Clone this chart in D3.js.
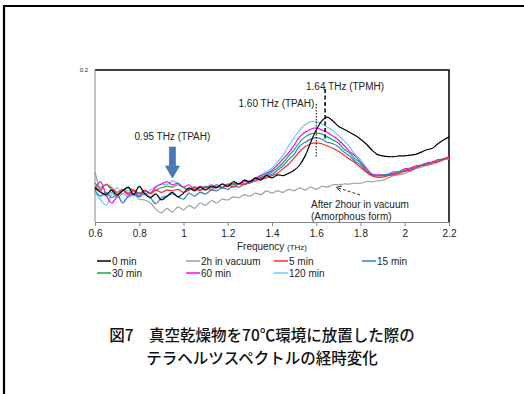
<!DOCTYPE html>
<html lang="ja">
<head>
<meta charset="UTF-8">
<title>THz spectra</title>
<style>
  body { margin: 0; background: #fff; font-family: 'Liberation Sans', Arial, sans-serif; }
  .axis path, .axis line { stroke: #888; }
  .axis text { fill: #222; font-size: 10px; font-family: 'Liberation Sans', Arial, sans-serif; }
  .cap { font-family: 'Noto Sans CJK JP', sans-serif; font-size: 15.5px; font-weight: 500; fill: #111; }
</style>
</head>
<body>
<div id="chart"></div>
<script src="https://cdnjs.cloudflare.com/ajax/libs/d3/7.8.5/d3.min.js"></script>
<script>
// frequency grid (THz), 0.6 .. 2.2 step 0.025
const freqs = d3.range(65).map(i => +(0.6 + i * 0.025).toFixed(3));
const xTicks = [0.6, 0.8, 1.0, 1.2, 1.4, 1.6, 1.8, 2.0, 2.2];
const yTicks = [0.2];

const min0 = [0.045,0.039,0.036,0.042,0.036,0.041,0.046,0.036,0.047,0.037,
  0.032,0.037,0.029,0.034,0.039,0.033,0.038,0.045,0.041,0.046,
  0.042,0.047,0.045,0.050,0.047,0.053,0.050,0.055,0.053,0.058,
  0.055,0.061,0.058,0.062,0.061,0.064,0.068,0.075,0.087,0.105,
  0.121,0.133,0.138,0.133,0.126,0.122,0.118,0.114,0.109,0.103,
  0.095,0.089,0.087,0.086,0.086,0.087,0.087,0.088,0.089,0.092,
  0.095,0.097,0.103,0.108,0.112];
const vacuum2h = [0.066,0.042,0.034,0.039,0.032,0.037,0.033,0.036,0.030,0.029,
  0.025,0.017,0.012,0.018,0.013,0.020,0.016,0.022,0.018,0.025,
  0.022,0.028,0.025,0.030,0.029,0.033,0.032,0.036,0.034,0.038,
  0.036,0.041,0.038,0.041,0.039,0.043,0.041,0.045,0.042,0.046,
  0.043,0.047,0.046,0.049,0.049,0.050,0.050,0.051,0.051,0.053,
  0.053,0.054,0.055,0.058,0.061,0.062,0.064,0.067,0.070,0.072,
  0.075,0.076,0.079,0.082,0.083];
const min5 = [0.047,0.042,0.050,0.045,0.039,0.043,0.038,0.042,0.037,0.041,
  0.038,0.042,0.039,0.042,0.041,0.043,0.039,0.042,0.045,0.041,
  0.046,0.042,0.047,0.045,0.049,0.046,0.050,0.049,0.053,0.054,
  0.057,0.058,0.061,0.064,0.070,0.076,0.084,0.093,0.099,0.103,
  0.104,0.103,0.100,0.097,0.093,0.088,0.083,0.078,0.072,0.066,
  0.061,0.059,0.059,0.061,0.062,0.064,0.067,0.068,0.071,0.074,
  0.075,0.078,0.079,0.082,0.084];
const min15 = [0.042,0.034,0.039,0.032,0.036,0.025,0.034,0.037,0.033,0.038,
  0.032,0.024,0.032,0.034,0.037,0.033,0.030,0.038,0.034,0.039,
  0.037,0.042,0.041,0.045,0.043,0.047,0.046,0.050,0.051,0.055,
  0.058,0.061,0.063,0.068,0.074,0.082,0.089,0.100,0.105,0.109,
  0.111,0.109,0.105,0.103,0.099,0.092,0.087,0.080,0.075,0.067,
  0.062,0.061,0.061,0.062,0.063,0.066,0.067,0.070,0.072,0.074,
  0.076,0.078,0.080,0.083,0.084];
const min30 = [0.051,0.045,0.049,0.042,0.034,0.041,0.045,0.042,0.038,0.041,
  0.037,0.042,0.045,0.047,0.046,0.049,0.045,0.042,0.046,0.042,
  0.047,0.045,0.049,0.046,0.050,0.049,0.051,0.050,0.053,0.055,
  0.059,0.062,0.066,0.071,0.078,0.087,0.095,0.105,0.112,0.116,
  0.117,0.116,0.112,0.108,0.104,0.096,0.091,0.083,0.078,0.068,
  0.062,0.061,0.062,0.062,0.064,0.066,0.068,0.070,0.072,0.075,
  0.076,0.079,0.080,0.083,0.084];
const min60 = [0.042,0.053,0.036,0.025,0.034,0.042,0.036,0.041,0.034,0.042,
  0.038,0.046,0.050,0.053,0.049,0.051,0.046,0.049,0.043,0.047,
  0.045,0.049,0.046,0.050,0.047,0.051,0.050,0.053,0.054,0.057,
  0.061,0.064,0.068,0.075,0.083,0.091,0.101,0.112,0.118,0.122,
  0.124,0.121,0.118,0.113,0.108,0.101,0.093,0.087,0.079,0.071,
  0.063,0.062,0.062,0.063,0.066,0.066,0.070,0.071,0.074,0.075,
  0.078,0.079,0.082,0.083,0.086];
const min120 = [0.039,0.029,0.022,0.036,0.045,0.037,0.042,0.034,0.039,0.036,
  0.042,0.047,0.050,0.049,0.054,0.051,0.046,0.043,0.047,0.043,
  0.047,0.045,0.049,0.046,0.050,0.047,0.051,0.050,0.054,0.058,
  0.062,0.066,0.071,0.079,0.088,0.100,0.111,0.121,0.128,0.132,
  0.132,0.129,0.125,0.120,0.114,0.107,0.099,0.089,0.082,0.072,
  0.064,0.061,0.061,0.062,0.063,0.066,0.067,0.070,0.071,0.074,
  0.075,0.078,0.079,0.082,0.083];

const seriesNames = ['0 min', '2h in vacuum', '5 min', '15 min', '30 min', '60 min', '120 min'];
const seriesValues = [min0, vacuum2h, min5, min15, min30, min60, min120];
const colors = ['#000000', '#a0a0a0', '#ff2a2a', '#2f7fd0', '#10b050', '#ff00ff', '#66ccff'];
// draw order (back to front)
const drawOrder = [1, 6, 5, 4, 3, 2, 0];

const W = 524, H = 394;
const svg = d3.select('#chart').append('svg').attr('width', W).attr('height', H);

// outer frame (left + top)
svg.append('path').attr('d', 'M4,400 L4,6 L530,6')
  .attr('fill', 'none').attr('stroke', '#000').attr('stroke-width', 2.2);

const plot = { left: 95, right: 449, top: 70, bottom: 222 };
const x = d3.scaleLinear().domain([0.6, 2.2]).range([plot.left, plot.right]);
const y = d3.scaleLinear().domain([0, 0.2]).range([plot.bottom, plot.top]);

// plot border top/right
svg.append('path')
  .attr('d', `M${plot.left},${plot.top} L${plot.right},${plot.top} L${plot.right},${plot.bottom}`)
  .attr('fill', 'none').attr('stroke', '#000').attr('stroke-width', 1.5);

// y axis
const yAxis = svg.append('g').attr('class', 'axis')
  .attr('transform', `translate(${plot.left},0)`)
  .call(d3.axisLeft(y).tickValues(yTicks).tickSize(0).tickPadding(7).tickFormat(d3.format('.1f')));
yAxis.select('.domain').attr('d', `M0,${plot.top}V${plot.bottom}`);
yAxis.selectAll('text').style('font-size', '6px');

// x axis
const xAxis = svg.append('g').attr('class', 'axis')
  .attr('transform', `translate(0,${plot.bottom})`)
  .call(d3.axisBottom(x).tickValues(xTicks).tickSizeInner(4).tickSizeOuter(0).tickPadding(4)
    .tickFormat(d => String(+d.toFixed(1))));

const xTitle = svg.append('text').attr('x', 272).attr('y', 250)
  .attr('text-anchor', 'middle').attr('fill', '#222').style('font-size', '10px');
xTitle.append('tspan').text('Frequency ');
xTitle.append('tspan').style('font-size', '8px').text('(THz)');

// curves
const line = d3.line()
  .x((d, i) => x(freqs[i]))
  .y(d => y(d))
  .curve(d3.curveCatmullRom.alpha(0.5));

svg.append('g').selectAll('path')
  .data(drawOrder)
  .join('path')
  .attr('d', k => line(seriesValues[k]))
  .attr('fill', 'none')
  .attr('stroke', k => colors[k])
  .attr('stroke-width', 1.2);

// annotations
const ann = svg.append('g').attr('fill', '#222').style('font-size', '10px');
ann.append('text').attr('x', x(0.95)).attr('y', 140).attr('text-anchor', 'middle').text('0.95 THz (TPAH)');
const ax = x(0.95);
svg.append('path')
  .attr('d', `M${ax - 3},147 L${ax + 3},147 L${ax + 3},166 L${ax + 7},166 L${ax},178 L${ax - 7},166 L${ax - 3},166 Z`)
  .attr('fill', '#4a78b8').attr('stroke', '#3a64a0').attr('stroke-width', 0.6);

ann.append('text').attr('x', x(1.6) - 2).attr('y', 107).attr('text-anchor', 'end').text('1.60 THz (TPAH)');
svg.append('line').attr('x1', x(1.6)).attr('x2', x(1.6)).attr('y1', 104).attr('y2', 157)
  .attr('stroke', '#000').attr('stroke-width', 1).attr('stroke-dasharray', '1.5,1.5');

ann.append('text').attr('x', 306).attr('y', 90).text('1.64 THz (TPMH)');
svg.append('line').attr('x1', x(1.64)).attr('x2', x(1.64)).attr('y1', 89).attr('y2', 141)
  .attr('stroke', '#000').attr('stroke-width', 1.5).attr('stroke-dasharray', '4,2.5');

ann.append('text').attr('x', 311).attr('y', 208).text('After 2hour in vacuum');
ann.append('text').attr('x', 311).attr('y', 220).text('(Amorphous form)');
svg.append('line').attr('x1', 360).attr('y1', 195).attr('x2', 337).attr('y2', 187.5)
  .attr('stroke', '#333').attr('stroke-width', 1).attr('stroke-dasharray', '3,2');
svg.append('path').attr('d', 'M342,186 L336.5,187.3 L340.5,191.5')
  .attr('fill', 'none').attr('stroke', '#333').attr('stroke-width', 1);

// legend
const legX = [97, 186, 274, 362];
const legend = svg.append('g').style('font-size', '10px');
seriesNames.forEach((name, i) => {
  const col = i < 4 ? i : i - 4;
  const row = i < 4 ? 0 : 1;
  const lx = legX[col], ly = 261 + row * 12;
  legend.append('line').attr('x1', lx).attr('x2', lx + 14).attr('y1', ly).attr('y2', ly)
    .attr('stroke', colors[i]).attr('stroke-width', 1.5);
  legend.append('text').attr('x', lx + 15).attr('y', ly + 3.5).attr('fill', '#222').text(name);
});

// caption
svg.append('text').attr('class', 'cap').attr('x', 262).attr('y', 341).attr('text-anchor', 'middle')
  .text('図7　真空乾燥物を70℃環境に放置した際の');
svg.append('text').attr('class', 'cap').attr('x', 262).attr('y', 364).attr('text-anchor', 'middle')
  .text('テラヘルツスペクトルの経時変化');
</script>
</body>
</html>
